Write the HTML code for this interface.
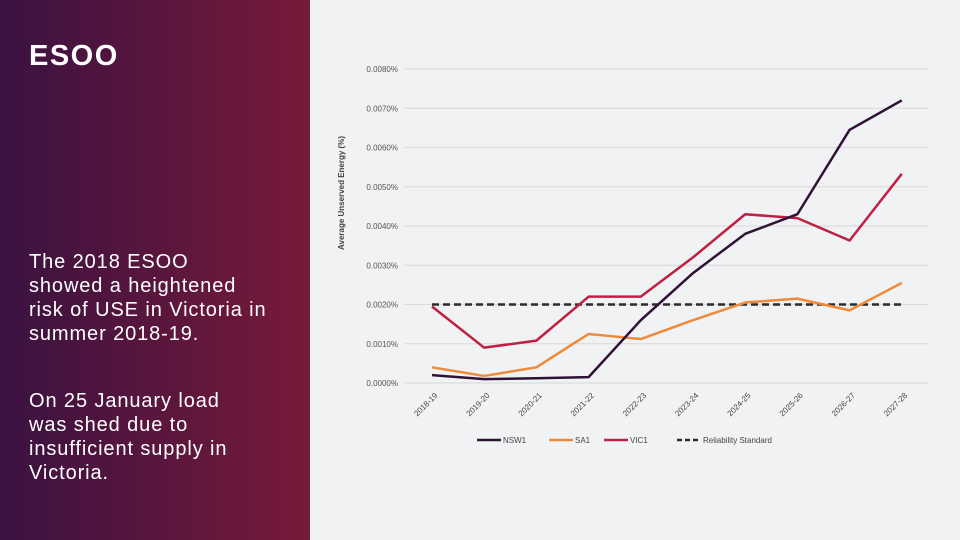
<!DOCTYPE html>
<html><head><meta charset="utf-8"><style>
body{margin:0;width:960px;height:540px;overflow:hidden;background:#f0f2f3;font-family:"Liberation Sans",sans-serif;position:relative}
#left{position:absolute;left:0;top:0;width:310px;height:540px;background:linear-gradient(90deg,#3a1240,#781a3a)}
#title{position:absolute;left:29px;top:40px;color:#fff;font-weight:bold;font-size:29px;letter-spacing:1.5px}
.p{position:absolute;left:29px;color:#fff;font-size:20px;line-height:24px;width:300px;white-space:nowrap;letter-spacing:0.9px}
svg{position:absolute;left:0;top:0}
</style></head><body>
<div id="left">
<div id="title">ESOO</div>
<div class="p" style="top:250px">The 2018 ESOO<br>showed a heightened<br>risk of USE in Victoria in<br>summer 2018-19.</div>
<div class="p" style="top:389px">On 25 January load<br>was shed due to<br>insufficient supply in<br>Victoria.</div>
</div>
<svg id="chart" width="960" height="540"></svg>
<script>
const categories=["2018-19","2019-20","2020-21","2021-22","2022-23","2023-24","2024-25","2025-26","2026-27","2027-28"];
const nsw=[0.0002,0.0001,0.00012,0.00015,0.0016,0.0028,0.0038,0.0043,0.00645,0.0072];
const sa=[0.0004,0.00018,0.0004,0.00125,0.00112,0.0016,0.00205,0.00215,0.00185,0.00255];
const vic=[0.00195,0.0009,0.00108,0.0022,0.0022,0.0032,0.0043,0.0042,0.00363,0.00533];
const reliability=[0.002,0.002,0.002,0.002,0.002,0.002,0.002,0.002,0.002,0.002];
const yTicks=[0,0.001,0.002,0.003,0.004,0.005,0.006,0.007,0.008];
const yTickLabels=["0.0000%","0.0010%","0.0020%","0.0030%","0.0040%","0.0050%","0.0060%","0.0070%","0.0080%"];
const NS="http://www.w3.org/2000/svg";
const svg=document.getElementById('chart');
const y=v=>383-v/0.008*314;
const x=i=>432+i*52.2;
function mk(t,a,p){const e=document.createElementNS(NS,t);for(const k in a)e.setAttribute(k,a[k]);(p||svg).appendChild(e);return e;}
yTicks.forEach((v,i)=>{
 const l=mk('line',{x1:405,x2:928,y1:y(v),y2:y(v),stroke:'#d6d8da','stroke-width':1});
 
 
 const t=mk('text',{x:398,y:y(v)+3,'text-anchor':'end','font-size':8,fill:'#555'});
 t.textContent=yTickLabels[i];
 
 
});
const yt=mk('text',{transform:'translate(344,193) rotate(-90)','text-anchor':'middle','font-size':8,'font-weight':'bold',fill:'#444'});
yt.textContent='Average Unserved Energy (%)';


categories.forEach((c,i)=>{
 const t=mk('text',{transform:`translate(${x(i)+6},${396}) rotate(-45)`,'text-anchor':'end','font-size':8,fill:'#444'});
 t.textContent=c;
 
 
});
function series(vals,color,name,dash){
 const p=mk('polyline',{points:vals.map((v,i)=>x(i)+','+y(v)).join(' '),fill:'none',stroke:color,'stroke-width':2.5,'stroke-dasharray':dash||'none','stroke-linejoin':'round'});
 
 
}
series(reliability,'#2b2b2e','reliability-standard-line','7,4');
series(sa,'#ef8a3a','sa1-line');
series(vic,'#c01f43','vic1-line');
series(nsw,'#2f1236','nsw1-line');
const leg=[['NSW1','#2f1236',477,0],['SA1','#ef8a3a',549,0],['VIC1','#c01f43',604,0],['Reliability Standard','#2b2b2e',677,'5,3']];
leg.forEach(([n,c,lx,d])=>{
 const g=mk('g',{});
 
 
 mk('line',{x1:lx,x2:lx+24,y1:440,y2:440,stroke:c,'stroke-width':2.5,'stroke-dasharray':d||'none'},g);
 const t=mk('text',{x:lx+26,y:443,'font-size':8,fill:'#444'},g);
 t.textContent=n;
});
</script>
</body></html>
